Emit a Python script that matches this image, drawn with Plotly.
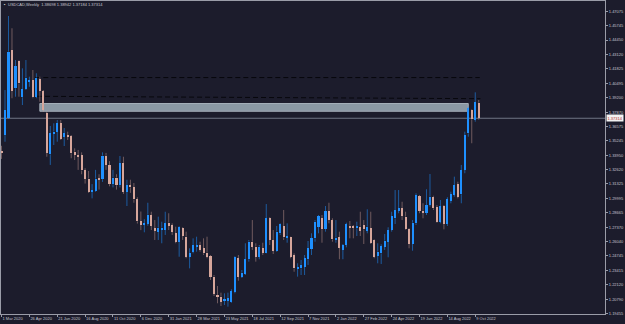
import plotly.graph_objects as go

# ---------------- data (USDCAD weekly, 1 Mar 2020 .. 16 Oct 2022) ----------------
opens = [1.3430, 1.3578, 1.3731, 1.4355, 1.4005, 1.4257, 1.3923, 1.3998, 1.4071, 1.4081,
         1.3928, 1.4090, 1.3980, 1.3777, 1.3402, 1.3588, 1.3609, 1.3685, 1.3563, 1.3578,
         1.3569, 1.3426, 1.3396, 1.3396, 1.3255, 1.3180, 1.3060, 1.3070, 1.3180, 1.3175,
         1.3388, 1.3305, 1.3130, 1.3190, 1.3120, 1.3320, 1.3060, 1.3120, 1.3100, 1.2990,
         1.2790, 1.2760, 1.2770, 1.2848, 1.2727, 1.2696, 1.2720, 1.2711, 1.2778, 1.2757,
         1.2681, 1.2604, 1.2727, 1.2650, 1.2467, 1.2513, 1.2559, 1.2574, 1.2544, 1.2504,
         1.2474, 1.2285, 1.2118, 1.2102, 1.2066, 1.2066, 1.2057, 1.2148, 1.2453, 1.2285,
         1.2309, 1.2444, 1.2604, 1.2559, 1.2467, 1.2544, 1.2504, 1.2818, 1.2620, 1.2522,
         1.2681, 1.2748, 1.2644, 1.2644, 1.2483, 1.2358, 1.2361, 1.2376, 1.2444, 1.2538,
         1.2635, 1.2741, 1.2818, 1.2720, 1.2885, 1.2802, 1.2620, 1.2644, 1.2529, 1.2574,
         1.2750, 1.2748, 1.2727, 1.2741, 1.2757, 1.2702, 1.2727, 1.2620, 1.2474, 1.2498,
         1.2559, 1.2604, 1.2711, 1.2818, 1.2887, 1.2909, 1.2833, 1.2720, 1.2583, 1.2772,
         1.3021, 1.2887, 1.2869, 1.2939, 1.3015, 1.2918, 1.2787, 1.2930, 1.2766, 1.2978,
         1.3031, 1.3128, 1.3037, 1.3259, 1.3594, 1.3807, 1.3715, 1.3873]
highs = [1.3480, 1.3989, 1.4665, 1.4553, 1.4263, 1.4263, 1.4187, 1.4263, 1.4111, 1.4172,
         1.4142, 1.4111, 1.3989, 1.3791, 1.3661, 1.3685, 1.3715, 1.3715, 1.3642, 1.3609,
         1.3578, 1.3457, 1.3442, 1.3420, 1.3275, 1.3250, 1.3130, 1.3260, 1.3220, 1.3420,
         1.3415, 1.3340, 1.3260, 1.3220, 1.3387, 1.3380, 1.3170, 1.3170, 1.3140, 1.3010,
         1.2880, 1.2810, 1.2960, 1.2878, 1.2802, 1.2833, 1.2787, 1.2878, 1.2864, 1.2772,
         1.2741, 1.2748, 1.2736, 1.2696, 1.2544, 1.2635, 1.2650, 1.2604, 1.2635, 1.2650,
         1.2483, 1.2300, 1.2200, 1.2139, 1.2133, 1.2139, 1.2170, 1.2474, 1.2483, 1.2346,
         1.2590, 1.2620, 1.2802, 1.2590, 1.2574, 1.2595, 1.2948, 1.2827, 1.2711, 1.2748,
         1.2772, 1.2894, 1.2772, 1.2650, 1.2498, 1.2407, 1.2437, 1.2483, 1.2611, 1.2681,
         1.2802, 1.2848, 1.2848, 1.2930, 1.2960, 1.2818, 1.2802, 1.2696, 1.2583, 1.2778,
         1.2793, 1.2757, 1.2787, 1.2878, 1.2802, 1.2900, 1.2878, 1.2626, 1.2590, 1.2581,
         1.2675, 1.2736, 1.2878, 1.3076, 1.3076, 1.2969, 1.2878, 1.2727, 1.2802, 1.3046,
         1.3031, 1.2955, 1.3083, 1.3222, 1.3024, 1.2939, 1.2985, 1.2939, 1.3010, 1.3061,
         1.3198, 1.3152, 1.3305, 1.3609, 1.3837, 1.3813, 1.3968, 1.3898]
lows = [1.3360, 1.3517, 1.3725, 1.3914, 1.3928, 1.3928, 1.3852, 1.3989, 1.4019, 1.3914,
        1.3914, 1.3882, 1.3791, 1.3380, 1.3305, 1.3487, 1.3517, 1.3533, 1.3478, 1.3533,
        1.3366, 1.3350, 1.3260, 1.3220, 1.3135, 1.3050, 1.3000, 1.3060, 1.3080, 1.3150,
        1.3260, 1.3110, 1.3100, 1.3080, 1.3100, 1.3040, 1.2930, 1.3050, 1.2960, 1.2770,
        1.2710, 1.2690, 1.2750, 1.2711, 1.2620, 1.2620, 1.2590, 1.2666, 1.2711, 1.2666,
        1.2590, 1.2467, 1.2620, 1.2453, 1.2361, 1.2498, 1.2513, 1.2513, 1.2483, 1.2453,
        1.2255, 1.2109, 1.2042, 1.2017, 1.2026, 1.2011, 1.2047, 1.2133, 1.2248, 1.2273,
        1.2300, 1.2422, 1.2529, 1.2422, 1.2444, 1.2483, 1.2498, 1.2574, 1.2492, 1.2513,
        1.2666, 1.2620, 1.2595, 1.2453, 1.2330, 1.2285, 1.2300, 1.2300, 1.2392, 1.2483,
        1.2604, 1.2681, 1.2595, 1.2696, 1.2772, 1.2604, 1.2595, 1.2444, 1.2444, 1.2553,
        1.2635, 1.2635, 1.2656, 1.2656, 1.2583, 1.2681, 1.2583, 1.2453, 1.2407, 1.2401,
        1.2529, 1.2462, 1.2696, 1.2766, 1.2864, 1.2802, 1.2711, 1.2544, 1.2522, 1.2757,
        1.2864, 1.2818, 1.2848, 1.2924, 1.2894, 1.2778, 1.2772, 1.2717, 1.2748, 1.2955,
        1.3015, 1.3000, 1.2955, 1.3229, 1.3563, 1.3503, 1.3700, 1.37184]
closes = [1.3415, 1.3807, 1.4339, 1.3983, 1.4208, 1.4050, 1.3996, 1.4102, 1.4081, 1.3923,
          1.4102, 1.3983, 1.3807, 1.3417, 1.3594, 1.3609, 1.3685, 1.3542, 1.3594, 1.3569,
          1.3411, 1.3396, 1.3380, 1.3255, 1.3180, 1.3060, 1.3070, 1.3180, 1.3170, 1.3390,
          1.3305, 1.3130, 1.3190, 1.3120, 1.3320, 1.3060, 1.3120, 1.3100, 1.2990, 1.2790,
          1.2760, 1.2770, 1.2850, 1.2748, 1.2711, 1.2732, 1.2732, 1.2772, 1.2748, 1.2696,
          1.2604, 1.2741, 1.2656, 1.2467, 1.2498, 1.2574, 1.2574, 1.2529, 1.2498, 1.2467,
          1.2285, 1.2127, 1.2102, 1.2057, 1.2078, 1.2088, 1.2154, 1.2467, 1.2285, 1.2321,
          1.2444, 1.2604, 1.2559, 1.2467, 1.2559, 1.2504, 1.2818, 1.2620, 1.2522, 1.2696,
          1.2766, 1.2644, 1.2650, 1.2467, 1.2361, 1.2367, 1.2392, 1.2455, 1.2547, 1.2635,
          1.2787, 1.2839, 1.2720, 1.2885, 1.2802, 1.2626, 1.2641, 1.2549, 1.2574, 1.2766,
          1.2732, 1.2729, 1.2748, 1.2705, 1.2717, 1.2741, 1.2595, 1.2467, 1.2513, 1.2565,
          1.2613, 1.2711, 1.2839, 1.2894, 1.2909, 1.2839, 1.2717, 1.2583, 1.2778, 1.3031,
          1.2885, 1.2873, 1.2939, 1.3015, 1.2909, 1.2787, 1.2930, 1.2766, 1.2991, 1.3037,
          1.3122, 1.3015, 1.3259, 1.3578, 1.3822, 1.3722, 1.3877, 1.37314]

# x-axis: weekly bar index, labelled every 8 weeks
x_tick_index = [0, 8, 16, 24, 32, 40, 48, 56, 64, 72, 80, 88, 96, 104, 112, 120, 128, 136]
x_tick_labels = ["1 Mar 2020", "26 Apr 2020", "21 Jun 2020", "16 Aug 2020", "11 Oct 2020",
                 "6 Dec 2020", "31 Jan 2021", "28 Mar 2021", "23 May 2021", "18 Jul 2021",
                 "12 Sep 2021", "7 Nov 2021", "2 Jan 2022", "27 Feb 2022", "24 Apr 2022",
                 "19 Jun 2022", "14 Aug 2022", "9 Oct 2022"]
y_tick_values = [1.19455, 1.20790, 1.22120, 1.23415, 1.24745, 1.26040, 1.27370, 1.28665,
                 1.29995, 1.31325, 1.32620, 1.33950, 1.35245, 1.36575, 1.37870, 1.39200,
                 1.40495, 1.41825, 1.43120, 1.44450, 1.45745, 1.47075]

title_text = "USDCAD,Weekly  1.38698 1.38942 1.37184 1.37314"
current_price = 1.37314
zone_bars = [11.0, 134.0]
zone_prices = [1.3795, 1.3866]
upper_level_bars = [9.7, 137.3]
upper_level_prices = [1.4103, 1.4103]
lower_level_bars = [10.2, 137.5]
lower_level_prices = [1.3932, 1.3910]

# ---------------- styles ----------------
BG = "#1c1c2c"
BULL = "#1e90ff"
BEAR = "#d6a69b"
BULL_WICK = "rgba(30,144,255,0.55)"
BEAR_WICK = "rgba(214,166,155,0.45)"
TXT = "#c4c4cc"
FRAME = "#9a9ca8"
FONT = "Liberation Sans"

n = len(opens)
idx = list(range(n))
MIN_BODY = 0.0008

bases, heights, colors = [], [], []
for o, c in zip(opens, closes):
    lo, hi = min(o, c), max(o, c)
    h = max(hi - lo, MIN_BODY)
    bases.append((lo + hi) / 2 - h / 2)
    heights.append(h)
    colors.append(BULL if c >= o else BEAR)

wx = {True: [], False: []}
wy = {True: [], False: []}
for i, (o, h, l, c) in enumerate(zip(opens, highs, lows, closes)):
    bull = c >= o
    top, bot = max(o, c), min(o, c)
    wx[bull] += [i, i, None, i, i, None]
    wy[bull] += [top, h, None, l, bot, None]

fig = go.Figure()
fig.add_trace(go.Scatter(x=wx[True], y=wy[True], mode="lines",
                         line=dict(color=BULL_WICK, width=1), hoverinfo="skip",
                         showlegend=False))
fig.add_trace(go.Scatter(x=wx[False], y=wy[False], mode="lines",
                         line=dict(color=BEAR_WICK, width=1), hoverinfo="skip",
                         showlegend=False))
fig.add_trace(go.Bar(x=idx, y=heights, base=bases, width=0.6,
                     marker=dict(color=colors, line=dict(width=0)),
                     showlegend=False))

# support/resistance zone and levels
fig.add_shape(type="rect", xref="x", yref="y",
              x0=zone_bars[0], x1=zone_bars[1], y0=zone_prices[0], y1=zone_prices[1],
              fillcolor="#8a98a4", line=dict(color="#a3aeb8", width=1), layer="below")
fig.add_shape(type="line", xref="x", yref="y",
              x0=upper_level_bars[0], x1=upper_level_bars[1],
              y0=upper_level_prices[0], y1=upper_level_prices[1],
              line=dict(color="#07070c", width=1, dash="5px,3px"), layer="below")
fig.add_shape(type="line", xref="x", yref="y",
              x0=lower_level_bars[0], x1=lower_level_bars[1],
              y0=lower_level_prices[0], y1=lower_level_prices[1],
              line=dict(color="#07070c", width=1, dash="5px,3px"), layer="below")
fig.add_shape(type="line", xref="paper", yref="y", x0=0, x1=1,
              y0=current_price, y1=current_price,
              line=dict(color="#6f7484", width=1), layer="below")

fig.add_annotation(xref="paper", yref="y", x=1, y=current_price, xanchor="left",
                   yanchor="middle", xshift=1, text=f"{current_price:.5f}", showarrow=False,
                   bgcolor="#f2f2f2", borderpad=0.5,
                   font=dict(family=FONT, size=4, color="#b02a2a"))
fig.add_annotation(xref="paper", yref="paper", x=0.008, y=0.988, xanchor="left",
                   yanchor="middle", text=title_text, showarrow=False,
                   font=dict(family=FONT, size=4, color=TXT))
fig.add_annotation(xref="paper", yref="paper", x=0.0015, y=0.988, xanchor="left",
                   yanchor="middle", text="\u25aa", showarrow=False,
                   font=dict(family=FONT, size=4, color="#e0e0e0"))

fig.update_layout(
    template="none",
    width=625, height=324,
    margin=dict(l=1, r=20, t=1, b=10, pad=0),
    paper_bgcolor=BG, plot_bgcolor=BG,
    bargap=0, showlegend=False,
    font=dict(family=FONT, size=4, color=TXT),
    xaxis=dict(range=[-0.15, 173.25], showgrid=False, zeroline=False,
               showline=True, linecolor=FRAME, linewidth=1, mirror=True,
               ticks="outside", ticklen=2, tickwidth=1, tickcolor=FRAME,
               tickvals=x_tick_index, ticktext=x_tick_labels, tickangle=0,
               ticklabelposition="outside right",
               tickfont=dict(family=FONT, size=4, color=TXT), automargin=False),
    yaxis=dict(range=[1.19442, 1.48019], side="right", showgrid=False, zeroline=False,
               showline=True, linecolor=FRAME, linewidth=1, mirror=True,
               ticks="outside", ticklen=2, tickwidth=1, tickcolor=FRAME,
               tickvals=y_tick_values, ticktext=[f"{v:.5f}" for v in y_tick_values],
               tickfont=dict(family=FONT, size=4, color=TXT), automargin=False),
)

fig.write_html("out.html")
